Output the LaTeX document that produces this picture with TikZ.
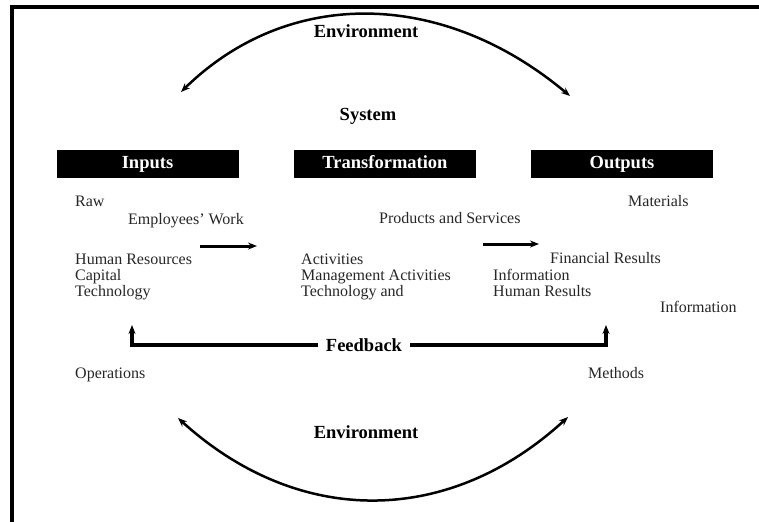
\documentclass[tikz,border=0pt]{standalone}
\usepackage{fontspec}
\setmainfont{Liberation Serif}
\usetikzlibrary{arrows.meta,positioning}

\begin{document}
\begin{tikzpicture}[x=1pt,y=-1pt,>={Stealth[length=9pt,width=7pt]},font=\fontsize{16}{18}\selectfont]
\tikzstyle{t}=[anchor=mid west,inner sep=0pt,text=black!85]
\tikzstyle{hd}=[anchor=mid,inner sep=0pt,font=\fontsize{18.5}{20}\selectfont\bfseries]
\tikzstyle{bx}=[fill=black,text=white,minimum width=182pt,minimum height=28pt,text height=0.95em,text depth=0.1em,font=\fontsize{18.5}{20}\selectfont\bfseries]
\useasboundingbox (0,0) rectangle (759,522);
\draw[line width=4pt] (12,522) -- (12,7) -- (759,7);
% headings and boxes
\node[hd] (envtop) at (366,35) {Environment};
\node[hd] (sys) at (368,118) {System};
\node[hd,inner sep=8pt] (fb) at (364,349) {Feedback};
\node[hd] (envbot) at (366,436) {Environment};
\foreach \nm/\x/\n in {inputs/147.5/Inputs,transf/385/Transformation,outputs/622/Outputs} \node[bx] (\nm) at (\x,164) {\n};
% loose texts
\foreach \nm/\x/\y/\n in {raw/75/204/Raw,emp/128/222/Employees' Work,hr/75/262/Human Resources,cap/75/278/Capital,tech/75/294/Technology,
  act/301/262/Activities,mgmt/301/278/Management Activities,techand/301/294/Technology and,prod/379/221/Products and Services,
  mat/628/204/Materials,fin/550/261/Financial Results,info/493/278/Information,hres/493/294/Human Results,infor/660/310/Information,
  ops/75/376/Operations,meth/588/376/Methods} \node[t] (\nm) at (\x,\y) {\n};
% arrow ends
\coordinate (tl) at (181,92); \coordinate (tr) at (570,96);
\coordinate (bl) at (178,418); \coordinate (br) at (568,417);
\coordinate (a1s) at (200,246); \coordinate (a1e) at (257,246);
\coordinate (a2s) at (483,244); \coordinate (a2e) at (539,244);
\coordinate (fbl) at (132,325); \coordinate (fbr) at (606,325);
\draw[<->,line width=2.5pt] (tl) .. controls (287,-12) and (441,-12) .. (tr);
\draw[<->,line width=2.5pt] (bl) .. controls (298,527) and (448,527) .. (br);
\draw[->,line width=3pt] (a1s) -- (a1e);
\draw[->,line width=3pt] (a2s) -- (a2e);
\draw[->,line width=3.5pt] (fb.west) -| (fbl);
\draw[->,line width=3.5pt] (fb.east) -| (fbr);
\end{tikzpicture}
\end{document}
